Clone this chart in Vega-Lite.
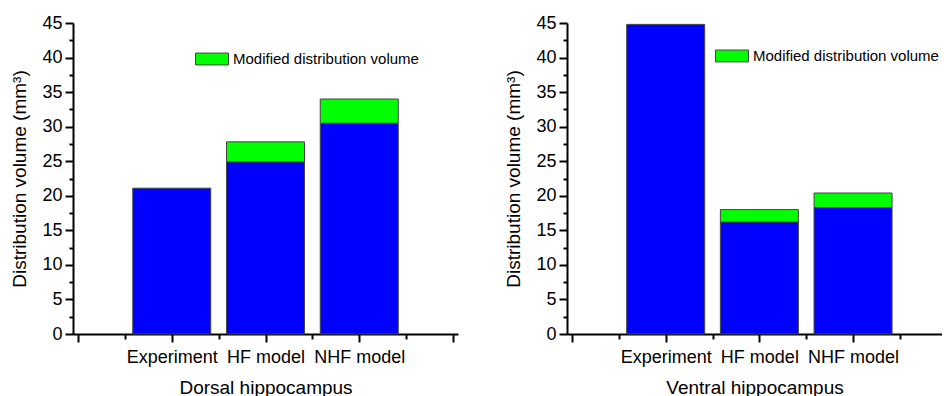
{
  "$schema": "https://vega.github.io/schema/vega-lite/v6.json",
  "background": "white",
  "padding": {"left": 10, "top": 14, "right": 0, "bottom": 0},
  "datasets": {
    "volumes": [
      {"region": "Dorsal hippocampus", "category": "Experiment", "pos": 1, "base": 21.1, "total": 21.1, "series": "Modified distribution volume"},
      {"region": "Dorsal hippocampus", "category": "HF model", "pos": 2, "base": 24.9, "total": 27.8, "series": "Modified distribution volume"},
      {"region": "Dorsal hippocampus", "category": "NHF model", "pos": 3, "base": 30.5, "total": 34.0, "series": "Modified distribution volume"},
      {"region": "Ventral hippocampus", "category": "Experiment", "pos": 1, "base": 44.8, "total": 44.8, "series": "Modified distribution volume"},
      {"region": "Ventral hippocampus", "category": "HF model", "pos": 2, "base": 16.2, "total": 18.0, "series": "Modified distribution volume"},
      {"region": "Ventral hippocampus", "category": "NHF model", "pos": 3, "base": 18.3, "total": 20.4, "series": "Modified distribution volume"}
    ]
  },
  "data": {"name": "volumes"},
  "config": {
    "view": {"stroke": null},
    "axis": {
      "grid": false,
      "domainColor": "black",
      "domainWidth": 2,
      "tickColor": "black",
      "tickWidth": 2,
      "labelFont": "Liberation Sans",
      "labelColor": "black",
      "titleFont": "Liberation Sans",
      "titleFontWeight": "normal",
      "titleColor": "black",
      "titleFontSize": 19
    },
    "legend": {
      "labelFont": "Liberation Sans",
      "labelFontSize": 15,
      "labelColor": "black",
      "labelLimit": 400
    }
  },
  "resolve": {"legend": {"color": "independent"}},
  "spacing": 46,
  "hconcat": [
    {
      "width": 385,
      "height": 311,
      "transform": [{"filter": "datum.region === 'Dorsal hippocampus'"}],
      "encoding": {
        "x": {
          "field": "pos", "type": "quantitative",
          "scale": {"domain": [0, 4], "nice": false, "zero": false},
          "axis": {
            "title": "Dorsal hippocampus",
            "values": [0, 0.5, 1, 1.5, 2, 2.5, 3, 3.5, 4],
            "labelExpr": "datum.value === 1 ? 'Experiment' : datum.value === 2 ? 'HF model' : datum.value === 3 ? 'NHF model' : ''",
            "tickSize": {"condition": {"test": "datum.value % 1 === 0", "value": 8}, "value": 5},
            "labelFontSize": 18,
            "labelPadding": 6,
            "labelFlush": false,
            "labelOverlap": false,
            "titlePadding": 12
          }
        },
        "y": {
          "field": "base", "type": "quantitative",
          "scale": {"domain": [0, 45], "nice": false},
          "axis": {
            "title": "Distribution volume (mm³)",
            "values": [0, 2.5, 5, 7.5, 10, 12.5, 15, 17.5, 20, 22.5, 25, 27.5, 30, 32.5, 35, 37.5, 40, 42.5, 45],
            "labelExpr": "datum.value % 5 === 0 ? datum.label : ''",
            "tickSize": {"condition": {"test": "datum.value % 5 === 0", "value": 8}, "value": 4},
            "labelFontSize": 18,
            "labelPadding": 3,
            "labelFlush": false,
            "labelOverlap": false,
            "titlePadding": 12
          }
        }
      },
      "layer": [
        {
          "mark": {"type": "bar", "width": 78, "color": "#0000ff", "stroke": "#444444", "strokeWidth": 1}
        },
        {
          "transform": [{"filter": "datum.total > datum.base"}],
          "mark": {"type": "bar", "width": 78, "stroke": "#444444", "strokeWidth": 1},
          "encoding": {
            "y2": {"field": "total"},
            "color": {
              "field": "series", "type": "nominal",
              "scale": {"domain": ["Modified distribution volume"], "range": ["#00ff00"]},
              "legend": {
                "title": null,
                "orient": "none",
                "legendX": 122,
                "legendY": 19,
                "padding": 0,
                "symbolType": "M-1,-0.36H1V0.36H-1Z",
                "symbolSize": 1089,
                "symbolStrokeColor": "#444444",
                "symbolStrokeWidth": 1,
                "symbolOpacity": 1,
                "labelOffset": 4
              }
            }
          }
        }
      ]
    },
    {
      "width": 375,
      "height": 311,
      "transform": [{"filter": "datum.region === 'Ventral hippocampus'"}],
      "encoding": {
        "x": {
          "field": "pos", "type": "quantitative",
          "scale": {"domain": [0, 3.896], "nice": false, "zero": false},
          "axis": {
            "title": "Ventral hippocampus",
            "values": [0, 0.5, 1, 1.5, 2, 2.5, 3, 3.5],
            "labelExpr": "datum.value === 1 ? 'Experiment' : datum.value === 2 ? 'HF model' : datum.value === 3 ? 'NHF model' : ''",
            "tickSize": {"condition": {"test": "datum.value % 1 === 0", "value": 8}, "value": 5},
            "labelFontSize": 18,
            "labelPadding": 6,
            "labelFlush": false,
            "labelOverlap": false,
            "titlePadding": 12
          }
        },
        "y": {
          "field": "base", "type": "quantitative",
          "scale": {"domain": [0, 45], "nice": false},
          "axis": {
            "title": "Distribution volume (mm³)",
            "values": [0, 2.5, 5, 7.5, 10, 12.5, 15, 17.5, 20, 22.5, 25, 27.5, 30, 32.5, 35, 37.5, 40, 42.5, 45],
            "labelExpr": "datum.value % 5 === 0 ? datum.label : ''",
            "tickSize": {"condition": {"test": "datum.value % 5 === 0", "value": 8}, "value": 4},
            "labelFontSize": 18,
            "labelPadding": 3,
            "labelFlush": false,
            "labelOverlap": false,
            "titlePadding": 12
          }
        }
      },
      "layer": [
        {
          "mark": {"type": "bar", "width": 78, "color": "#0000ff", "stroke": "#444444", "strokeWidth": 1}
        },
        {
          "transform": [{"filter": "datum.total > datum.base"}],
          "mark": {"type": "bar", "width": 78, "stroke": "#444444", "strokeWidth": 1},
          "encoding": {
            "y2": {"field": "total"},
            "color": {
              "field": "series", "type": "nominal",
              "scale": {"domain": ["Modified distribution volume"], "range": ["#00ff00"]},
              "legend": {
                "title": null,
                "orient": "none",
                "legendX": 148,
                "legendY": 16,
                "padding": 0,
                "symbolType": "M-1,-0.36H1V0.36H-1Z",
                "symbolSize": 1089,
                "symbolStrokeColor": "#444444",
                "symbolStrokeWidth": 1,
                "symbolOpacity": 1,
                "labelOffset": 4
              }
            }
          }
        }
      ]
    }
  ]
}
